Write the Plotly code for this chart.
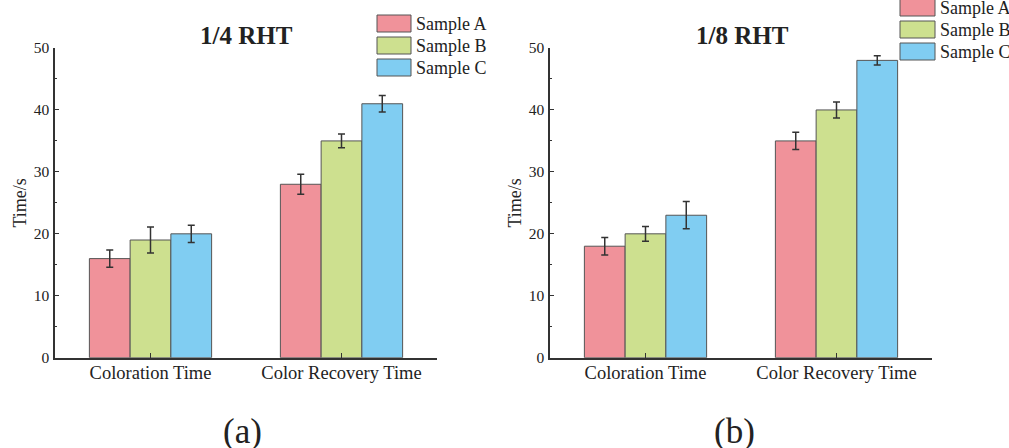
import plotly.graph_objects as go

W, H = 1009, 448
MT, MB = 12, 12  # explicit margins (window px); paper spans MT..H-MB

categories = ["Coloration Time", "Color Recovery Time"]
samples = ["Sample A", "Sample B", "Sample C"]
colors = ["#F0929A", "#CDE08F", "#80CDF2"]

# 1/4 RHT
a_vals = [16, 28]
a_errs = [1.4, 1.6]
b_vals = [19, 35]
b_errs = [2.1, 1.1]
c_vals = [20, 41]
c_errs = [1.4, 1.35]

# 1/8 RHT
a8_vals = [18, 35]
a8_errs = [1.4, 1.4]
b8_vals = [20, 40]
b8_errs = [1.2, 1.3]
c8_vals = [23, 48]
c8_errs = [2.2, 0.75]

panel_titles = ["1/4 RHT", "1/8 RHT"]
panel_labels = ["(a)", "(b)"]
y_ticks = [0, 10, 20, 30, 40, 50]

FONT = "Liberation Serif, Times New Roman, serif"
TXT = "#222222"


def px(x):
    return x / W


def py(y):
    return (H - MB - y) / (H - MT - MB)


fig = go.Figure()

panels = [
    ([a_vals, b_vals, c_vals], [a_errs, b_errs, c_errs], "x", "y"),
    ([a8_vals, b8_vals, c8_vals], [a8_errs, b8_errs, c8_errs], "x2", "y2"),
]
for vals_list, errs_list, xa, ya in panels:
    for name, vals, errs, col in zip(samples, vals_list, errs_list, colors):
        fig.add_trace(go.Bar(
            x=categories, y=vals, name=name, xaxis=xa, yaxis=ya,
            marker=dict(color=col, line=dict(color="#555555", width=1)),
            error_y=dict(type="data", array=errs, color="#333333",
                         thickness=1.5, width=3.5),
            showlegend=False,
        ))

xdom = [[px(55), px(437)], [px(550), px(932)]]
ydom = [py(357.7), py(48)]

common_x = dict(
    showline=True, linecolor="#333333", linewidth=1.5,
    ticks="inside", ticklen=5, tickcolor="#333333", tickwidth=1.2,
    tickfont=dict(family=FONT, size=18.5, color=TXT),
    ticklabelstandoff=-3,
    range=[-0.5, 1.5], showgrid=False, zeroline=False,
)
common_y = dict(
    showline=True, linecolor="#333333", linewidth=1.5,
    ticks="inside", ticklen=4, tickcolor="#333333", tickwidth=1.2,
    tickvals=y_ticks, range=[0, 50],
    minor=dict(ticks="inside", ticklen=2, dtick=5, tickcolor="#333333", tickwidth=1.2, showgrid=False),
    tickfont=dict(family=FONT, size=15.5, color=TXT),
    ticklabelstandoff=1,
    title=dict(text="Time/s", font=dict(family=FONT, size=18, color=TXT), standoff=2),
    showgrid=False, zeroline=False,
)

# overlay axes in window-pixel units for decorations (titles, legends, panel labels)
overlay_x = dict(domain=[0, 1], range=[0, W], visible=False, fixedrange=True, anchor="y3")
overlay_y = dict(domain=[0, 1], range=[H - MB, MT], visible=False, fixedrange=True, anchor="x3")

fig.update_layout(
    width=W, height=H,
    margin=dict(l=0, r=0, t=MT, b=MB),
    paper_bgcolor="white", plot_bgcolor="rgba(0,0,0,0)",
    barmode="group", bargap=0.36, bargroupgap=0,
    xaxis=dict(domain=xdom[0], anchor="y", **common_x),
    yaxis=dict(domain=ydom, anchor="x", **common_y),
    xaxis2=dict(domain=xdom[1], anchor="y2", **common_x),
    yaxis2=dict(domain=ydom, anchor="x2", **common_y),
    xaxis3=overlay_x,
    yaxis3=overlay_y,
    showlegend=False,
)

annotations = []
shapes = []


def label(x, y, text, size, xanchor="center", bold=False):
    # anchor kept inside the overlay range; yshift moves text into the margin
    ya = min(max(y, MT + 0.5), H - MB - 0.5)
    annotations.append(dict(x=x, y=ya, xref="x3", yref="y3", yshift=ya - y,
                            text=("<b>" + text + "</b>") if bold else text,
                            showarrow=False,
                            font=dict(family=FONT, size=size, color=TXT),
                            xanchor=xanchor, yanchor="middle"))


# titles and panel labels
for cx, t in zip([246, 742], panel_titles):
    label(cx, 35, t, 25, bold=True)
for cx, t in zip([242, 734], panel_labels):
    label(cx, 431, t, 35)

# legends (swatch boxes + labels)
legend_specs = [(377, 411, 15), (900, 935, -1)]
for x0, x1, ytop in legend_specs:
    for i, (name, col) in enumerate(zip(samples, colors)):
        y0 = ytop + i * 22
        y1 = y0 + 17
        shapes.append(dict(type="rect", xref="paper", yref="paper",
                           x0=px(x0), x1=px(x1), y0=py(y1), y1=py(y0),
                           fillcolor=col, line=dict(color="#555555", width=1)))
        label(x1 + 3, (y0 + y1) / 2 + 0.5, name, 18, xanchor="left")

fig.update_layout(annotations=annotations, shapes=shapes)

fig.write_html("out.html", config={"displayModeBar": False},
               post_script="document.body.style.margin='0';")
